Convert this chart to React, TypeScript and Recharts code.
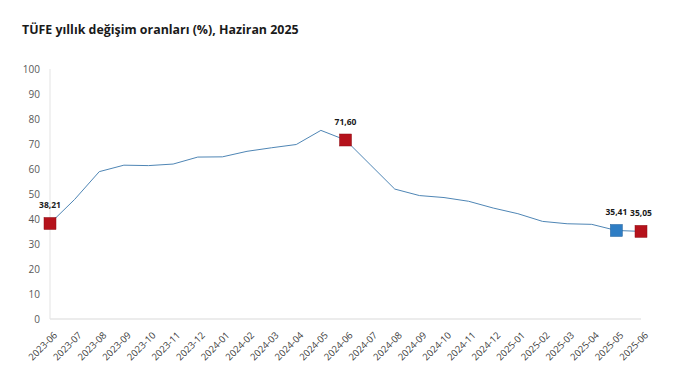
import React from "react";
import { LineChart, Line, XAxis, YAxis } from "recharts";

const months = [
  "2023-06","2023-07","2023-08","2023-09","2023-10","2023-11","2023-12",
  "2024-01","2024-02","2024-03","2024-04","2024-05","2024-06","2024-07",
  "2024-08","2024-09","2024-10","2024-11","2024-12","2025-01","2025-02",
  "2025-03","2025-04","2025-05","2025-06",
];
const cpi = [
  38.21, 47.83, 58.94, 61.53, 61.36, 61.98, 64.77,
  64.86, 67.07, 68.5, 69.8, 75.45, 71.6, 61.78,
  51.97, 49.38, 48.58, 47.09, 44.38, 42.12, 39.05,
  38.1, 37.86, 35.41, 35.05,
];
const highlightRed = ["2023-06", "2024-06", "2025-06"];
const highlightBlue = ["2025-05"];
const yTicks = [0, 10, 20, 30, 40, 50, 60, 70, 80, 90, 100];
const title = "TÜFE yıllık değişim oranları (%), Haziran 2025";

const data = months.map((m, i) => ({ month: m, value: cpi[i] }));

const FONT = "'Open Sans', 'Noto Sans', sans-serif";

const Dot = (props: any) => {
  const { cx, cy, payload } = props;
  const red = highlightRed.includes(payload.month);
  const blue = highlightBlue.includes(payload.month);
  if (!red && !blue) return <g key={payload.month} />;
  const s = 12;
  return (
    <g key={payload.month}>
      <rect
        x={cx - s / 2}
        y={cy - s / 2}
        width={s}
        height={s}
        fill={red ? "#b5121b" : "#2e7dc4"}
        stroke={red ? "#8e0e15" : "#1f5f9a"}
        strokeWidth={0.5}
      />
      <text
        x={cx}
        y={cy - 15}
        textAnchor="middle"
        fontSize={8.5}
        fontWeight="bold"
        fontFamily={FONT}
        fill="#1a1a1a"
      >
        {payload.value.toFixed(2).replace(".", ",")}
      </text>
    </g>
  );
};

const XTick = (props: any) => {
  const { x, y, payload } = props;
  return (
    <g transform={`translate(${x + 5},${y + 6})`}>
      <text
        x={0}
        y={0}
        dy={4}
        textAnchor="end"
        transform="rotate(-45)"
        fontSize={9.5}
        fontFamily={FONT}
        fill="#404040"
      >
        {payload.value}
      </text>
    </g>
  );
};

export default function App() {
  return (
    <div style={{ position: "absolute", left: 0, top: 0, width: 673, height: 371, background: "#fff" }}>
      <div
        style={{
          position: "absolute",
          left: 22,
          top: 21,
          fontFamily: FONT,
          fontWeight: 700,
          fontSize: 12.4,
          color: "#1a1a1a",
          whiteSpace: "nowrap",
        }}
      >
        {title}
      </div>
      <LineChart
        width={673}
        height={371}
        data={data}
        margin={{ top: 69, right: 32, bottom: 0, left: 0 }}
      >
        <XAxis
          dataKey="month"
          interval={0}
          height={52}
          tick={<XTick />}
          tickLine={false}
          axisLine={{ stroke: "#d9d9d9" }}
          padding={{ left: 0, right: 0 }}
        />
        <YAxis
          width={50}
          domain={[0, 100]}
          ticks={yTicks}
          interval={0}
          tickLine={false}
          axisLine={{ stroke: "#e3e3e3" }}
          tick={{ fontSize: 10, fill: "#595959", fontFamily: FONT }}
          tickMargin={4}
        />
        <Line
          type="linear"
          dataKey="value"
          stroke="#4f86b5"
          strokeWidth={1}
          dot={<Dot />}
          activeDot={false}
          isAnimationActive={false}
        />
      </LineChart>
    </div>
  );
}
